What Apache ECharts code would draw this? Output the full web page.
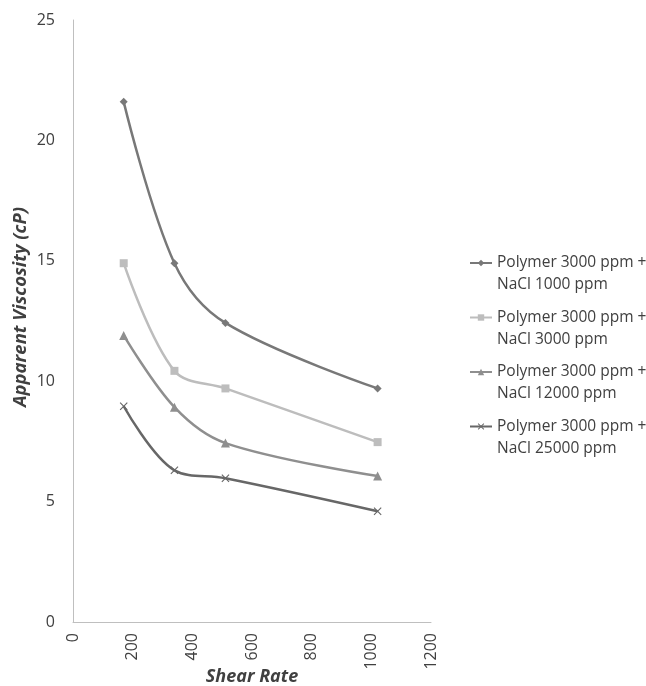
<!DOCTYPE html>
<html><head><meta charset="utf-8">
<script src="https://cdn.jsdelivr.net/npm/echarts@6/dist/echarts.min.js"></script>
<style>html,body{margin:0;padding:0;background:#fff}#c{width:646px;height:686px}</style>
</head><body><div id="c"></div>
<script>
const shearRate = [170, 340, 511, 1021];
const seriesNames = [
  'Polymer 3000 ppm + NaCl 1000 ppm',
  'Polymer 3000 ppm + NaCl 3000 ppm',
  'Polymer 3000 ppm + NaCl 12000 ppm',
  'Polymer 3000 ppm + NaCl 25000 ppm'
];
const nacl1000 = [21.6, 14.9, 12.42, 9.7];
const nacl3000 = [14.9, 10.43, 9.7, 7.47];
const nacl12000 = [11.9, 8.92, 7.43, 6.06];
const nacl25000 = [8.96, 6.3, 5.97, 4.6];
const yTicks = [0, 5, 10, 15, 20, 25];
const xTicks = [0, 200, 400, 600, 800, 1000, 1200];

const colors = ['#787878', '#bdbdbd', '#8f8f8f', '#676767'];
const symbols = ['diamond', 'rect', 'triangle',
  'path://M0,1L1,0L5,4L9,0L10,1L6,5L10,9L9,10L5,6L1,10L0,9L4,5Z'];
const symSizes = [8, 8, 9, 8];
const allData = [nacl1000, nacl3000, nacl12000, nacl25000];

const chart = echarts.init(document.getElementById('c'));
chart.setOption({
  animation: false,
  textStyle: {fontFamily: 'Open Sans, Liberation Sans, sans-serif'},
  grid: {left: 73, right: 215, top: 20, bottom: 64, containLabel: false, outerBoundsMode: 'none'},
  xAxis: {
    type: 'value', min: 0, max: 1200, interval: 200,
    name: 'Shear Rate', nameLocation: 'middle', nameGap: 46, nameMoveOverlap: false,
    nameTextStyle: {fontSize: 18, fontWeight: 'bold', fontStyle: 'italic', color: '#404040'},
    axisLine: {show: true, lineStyle: {color: '#bfbfbf', width: 1}},
    axisTick: {show: false},
    splitLine: {show: false},
    axisLabel: {rotate: 90, fontSize: 16, color: '#404040', margin: 11,
      formatter: v => xTicks.includes(v) ? String(v) : ''}
  },
  yAxis: {
    type: 'value', min: 0, max: 25, interval: 5,
    name: 'Apparent Viscosity (cP)', nameLocation: 'middle', nameGap: 43, nameMoveOverlap: false,
    nameTextStyle: {fontSize: 18.5, fontWeight: 'bold', fontStyle: 'italic', color: '#404040',
      padding: [0, 0, 0, 28]},
    axisLine: {show: true, lineStyle: {color: '#bfbfbf', width: 1}},
    axisTick: {show: false},
    splitLine: {show: false},
    axisLabel: {fontSize: 16, color: '#404040', margin: 18,
      formatter: v => yTicks.includes(v) ? String(v) : ''}
  },
  legend: {
    orient: 'vertical', left: 464, top: 225, itemGap: -11.5,
    itemWidth: 22, itemHeight: 8,
    textStyle: {fontSize: 15.5, color: '#404040', lineHeight: 22},
    formatter: n => '\n' + n.replace(' + ', ' +\n'),
    data: seriesNames
  },
  series: allData.map((d, i) => ({
    name: seriesNames[i], type: 'line', smooth: 0.35,
    data: shearRate.map((x, j) => [x, d[j]]),
    symbol: symbols[i], symbolSize: symSizes[i], showSymbol: true,
    lineStyle: {color: colors[i], width: 2.5},
    itemStyle: {color: colors[i]}
  }))
});
</script></body></html>
